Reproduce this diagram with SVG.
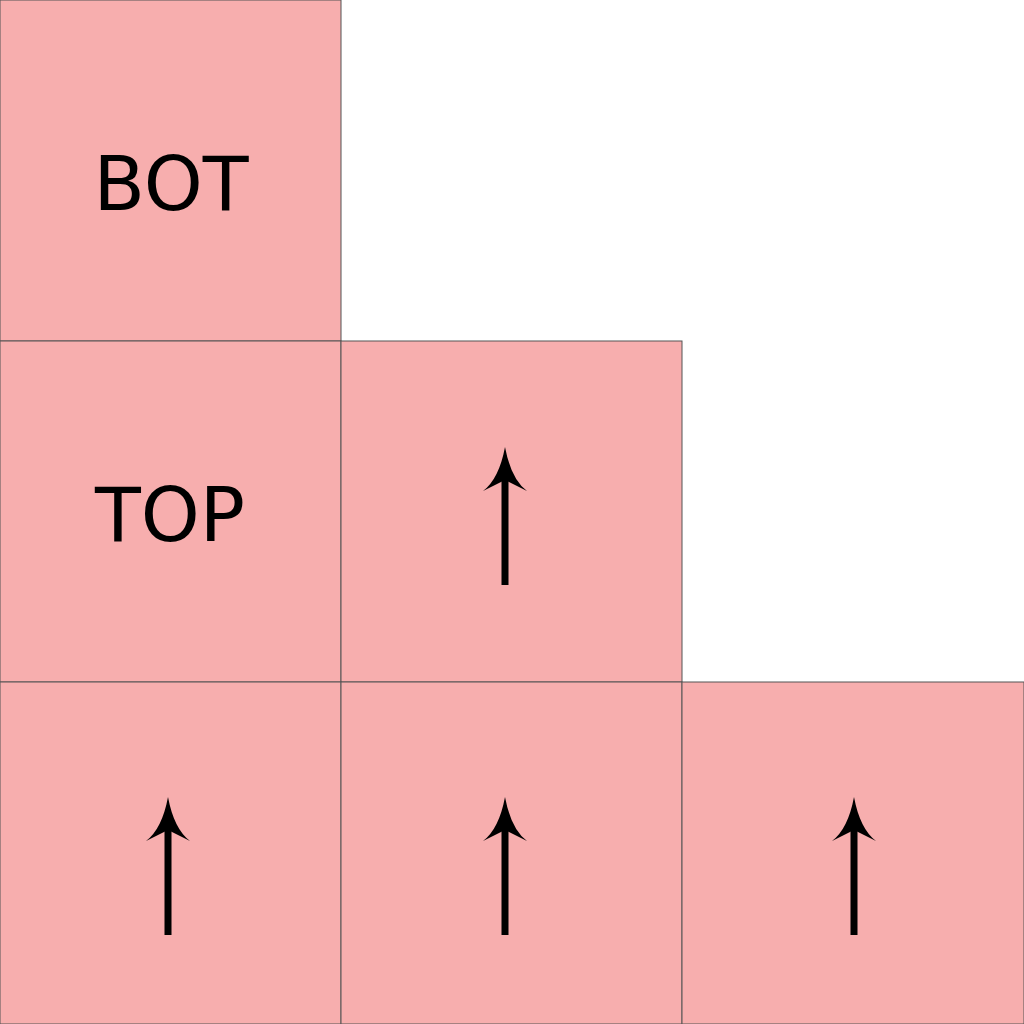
<svg xmlns="http://www.w3.org/2000/svg" width="1024" height="1024" viewBox="0 0 1024 1024">
<style>
.cell{fill:#f7aeae;stroke:#555;stroke-width:1}
.lbl{font-family:"DejaVu Sans",sans-serif;font-size:75px;fill:#000;text-anchor:middle}
</style>
<defs>
<g id="arrow">
<rect x="-3.5" y="28" width="7" height="110" fill="#000"/>
<path d="M0,0 Q6,32 22,44 Q10,38 0,33 Q-10,38 -22,44 Q-6,32 0,0 Z" fill="#000"/>
</g>
</defs>
<rect width="1024" height="1024" fill="#fff"/>
<g id="cell-bot"><rect class="cell" x="0" y="0" width="341" height="341"/><text class="lbl" x="171" y="210">BOT</text></g>
<g id="cell-top"><rect class="cell" x="0" y="341" width="341" height="341"/><text class="lbl" x="170" y="541">TOP</text></g>
<g id="cell-r1c1"><rect class="cell" x="341" y="341" width="341" height="341"/><use href="#arrow" x="505" y="447"/></g>
<g id="cell-r2c0"><rect class="cell" x="0" y="682" width="341" height="342"/><use href="#arrow" x="168" y="797"/></g>
<g id="cell-r2c1"><rect class="cell" x="341" y="682" width="341" height="342"/><use href="#arrow" x="505" y="797"/></g>
<g id="cell-r2c2"><rect class="cell" x="682" y="682" width="342" height="342"/><use href="#arrow" x="854" y="797"/></g>
<g id="connectors"></g>
</svg>
